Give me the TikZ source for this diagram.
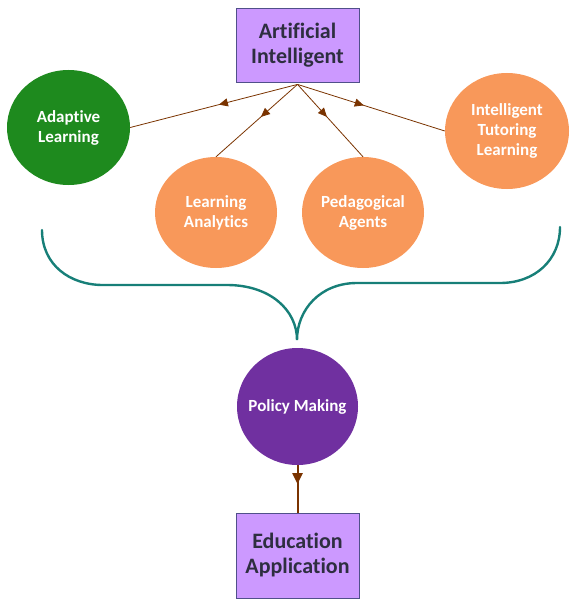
\documentclass[tikz,border=0pt]{standalone}
\usepackage{fontspec}
\setmainfont{Carlito}[Ligatures=NoCommon]
\usetikzlibrary{shapes.geometric,arrows.meta,decorations.markings}
\definecolor{boxfill}{HTML}{CC99FF}
\definecolor{boxdraw}{HTML}{50508A}
\definecolor{boxtext}{HTML}{2E2E40}
\definecolor{greenc}{HTML}{1E8A1E}
\definecolor{orangec}{HTML}{F8985A}
\definecolor{purplec}{HTML}{7030A0}
\definecolor{linec}{HTML}{8C5A3C}
\definecolor{tipc}{HTML}{7A3300}
\definecolor{bracec}{HTML}{177F78}
\tikzset{
  topbox/.style={draw=boxdraw, line width=0.8pt, fill=boxfill, text=boxtext,
    minimum width=123pt, inner sep=0pt, align=center,
    font=\fontsize{22}{25}\selectfont\bfseries},
  circ/.style={ellipse, draw=none, inner sep=0pt},
  circtext/.style={text=white, align=center, inner sep=0pt,
    font=\fontsize{17}{20}\selectfont\bfseries},
  midarrow/.style={decoration={markings, mark=at position #1 with {\arrow{Triangle[length=9pt,width=8pt]}}},
    postaction={decorate}},
  link/.style={draw=linec, line width=0.8pt, tipc},
}
\begin{document}
\begin{tikzpicture}[x=1pt,y=-1pt]
\useasboundingbox (0,0) rectangle (573,607);
\node[topbox, minimum height=74pt] (ai) at (297.5,45) {Artificial\\Intelligent};
\node[circ, fill=greenc, minimum width=123pt, minimum height=115pt] (al) at (68.5,127.5) {};
\node[circtext] (alt) at (al.center) {Adaptive\\Learning};
\node[circ, fill=orangec, minimum width=122pt, minimum height=111pt] (la) at (216,212.5) {};
\node[circtext] (lat) at (la.center) {Learning\\Analytics};
\node[circ, fill=orangec, minimum width=122pt, minimum height=111pt] (pa) at (363,212.5) {};
\node[circtext] (pat) at (pa.center) {Pedagogical\\Agents};
\node[circ, fill=orangec, minimum width=124pt, minimum height=116pt] (itl) at (507,131) {};
\node[circtext] (itlt) at (itl.center) {Intelligent\\Tutoring\\Learning};
\node[circ, fill=purplec, minimum width=121pt, minimum height=117pt] (pm) at (297.5,406.5) {};
\node[circtext] (pmt) at (pm.center) {Policy Making};
\node[topbox, minimum height=85pt] (ea) at (297.5,555.5) {Education\\Application};
\coordinate (src) at ([yshift=-2pt]ai.south);
\draw[link, midarrow=0.47] (src) -- (al.east);
\draw[link, midarrow=0.45] (src) -- (la.north);
\draw[link, midarrow=0.45] (src) -- (pa.north);
\draw[link, midarrow=0.45] (src) -- (itl.west);
\draw[draw=tipc, line width=2pt, tipc, decoration={markings, mark=at position 0.4 with {\arrow{Triangle[length=11pt,width=10pt]}}}, postaction={decorate}] (pm.south) -- (ea.north);
\coordinate (bl) at (42,230);
\coordinate (br) at (560,227);
\coordinate (tip) at (297,340);
\draw[bracec, line width=2.4pt, line cap=round]
  (bl) .. controls (42,265) and (70,285) .. (103,285) -- (227,285)
  .. controls (270,285) and (297,310) .. (tip)
  .. controls (297,310) and (320,283) .. (357,283) -- (500,283)
  .. controls (535,283) and (560,260) .. (br);
\end{tikzpicture}
\end{document}
